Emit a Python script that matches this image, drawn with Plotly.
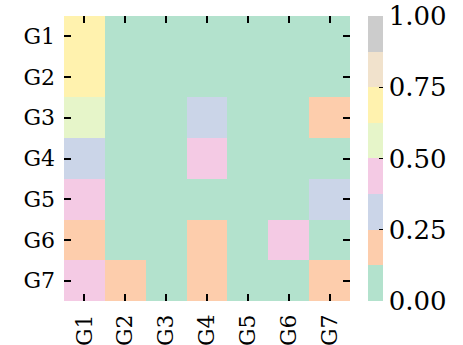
import plotly.graph_objects as go

# Group labels shared by both axes
groups = ["G1", "G2", "G3", "G4", "G5", "G6", "G7"]

# Matrix values, one row per group on the y axis
row_g1 = [0.70, 0.00, 0.00, 0.00, 0.00, 0.00, 0.00]
row_g2 = [0.70, 0.00, 0.00, 0.00, 0.00, 0.00, 0.00]
row_g3 = [0.55, 0.00, 0.00, 0.30, 0.00, 0.00, 0.20]
row_g4 = [0.30, 0.00, 0.00, 0.40, 0.00, 0.00, 0.00]
row_g5 = [0.45, 0.00, 0.00, 0.00, 0.00, 0.00, 0.30]
row_g6 = [0.20, 0.00, 0.00, 0.20, 0.00, 0.40, 0.00]
row_g7 = [0.40, 0.20, 0.00, 0.20, 0.00, 0.00, 0.20]
z = [row_g1, row_g2, row_g3, row_g4, row_g5, row_g6, row_g7]

colorbar_ticks = [0.0, 0.25, 0.5, 0.75, 1.0]

# Pastel2 palette as 8 discrete bands
pastel2 = ["#b3e2cd", "#fdcdac", "#cbd5e8", "#f4cae4",
           "#e6f5c9", "#fff2ae", "#f1e2cc", "#cccccc"]
n = len(pastel2)
colorscale = []
for i, c in enumerate(pastel2):
    colorscale.append([i / n, c])
    colorscale.append([(i + 1) / n, c])

font_family = "DejaVu Serif"

fig = go.Figure(
    go.Heatmap(
        z=z,
        x=groups,
        y=groups,
        colorscale=colorscale,
        zmin=0,
        zmax=1,
        colorbar=dict(
            x=1.063,
            xanchor="left",
            xpad=0,
            y=0.5,
            yanchor="middle",
            len=1,
            lenmode="fraction",
            ypad=0,
            thickness=15,
            outlinewidth=0,
            tickvals=colorbar_ticks,
            ticktext=[f"{v:.2f}" for v in colorbar_ticks],
            ticks="inside",
            ticklen=4,
            tickwidth=1,
            tickcolor="black",
            tickfont=dict(family=font_family, size=26, color="black"),
        ),
    )
)

fig.update_layout(
    width=463,
    height=345,
    margin=dict(l=64, r=113, t=16, b=44, autoexpand=False),
    paper_bgcolor="white",
    plot_bgcolor="white",
    font=dict(family=font_family, color="black"),
)

axis_style = dict(
    ticks="inside",
    ticklen=7,
    tickwidth=1.5,
    tickcolor="black",
    mirror="ticks",
    showline=False,
    showgrid=False,
    zeroline=False,
    automargin=False,
    layer="above traces",
    ticklabelstandoff=8,
    tickfont=dict(family=font_family, size=22, color="black"),
)

fig.update_xaxes(side="bottom", tickangle=-90, **axis_style)
fig.update_yaxes(autorange="reversed", **axis_style)

fig.write_html("out.html")
